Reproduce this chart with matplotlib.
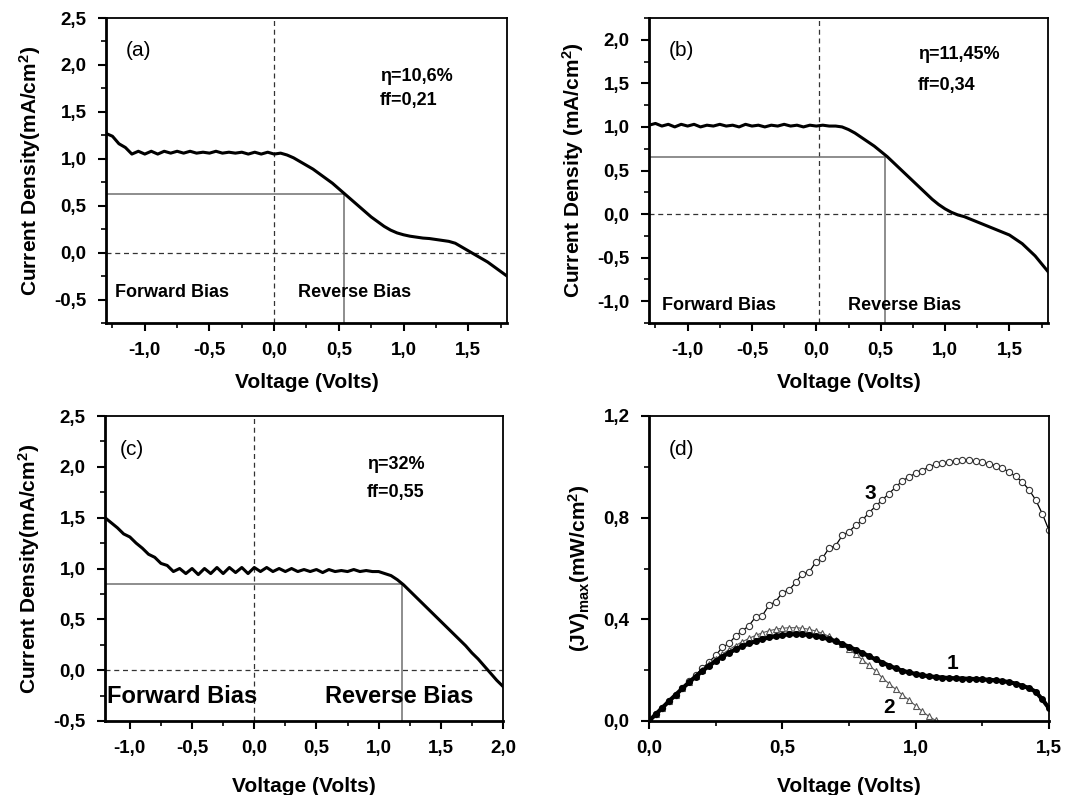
import numpy as np
import matplotlib
matplotlib.use("Agg")
import matplotlib.pyplot as plt
from matplotlib.ticker import MultipleLocator, FuncFormatter

plt.rcParams['font.family'] = ['Liberation Sans', 'DejaVu Sans']
plt.rcParams['font.weight'] = 'bold'
plt.rcParams['mathtext.default'] = 'regular'

# ---- panel (a): J-V, eta=10,6 %
va = [-1.30, -1.25, -1.20, -1.15, -1.10, -1.05, -1.00, -0.95, -0.90, -0.85, -0.80, -0.75, -0.70,
      -0.65, -0.60, -0.55, -0.50, -0.45, -0.40, -0.35, -0.30, -0.25, -0.20, -0.15, -0.10, -0.05,
      0.00, 0.05, 0.10, 0.15, 0.20, 0.25, 0.30, 0.35, 0.40, 0.45, 0.50, 0.55, 0.60, 0.65, 0.70,
      0.75, 0.80, 0.85, 0.90, 0.95, 1.00, 1.05, 1.10, 1.15, 1.20, 1.25, 1.30, 1.35, 1.40, 1.45,
      1.50, 1.55, 1.60, 1.65, 1.70, 1.75, 1.80]
ja = [1.27, 1.24, 1.16, 1.12, 1.05, 1.08, 1.05, 1.08, 1.05, 1.08, 1.06, 1.08, 1.06,
      1.08, 1.06, 1.07, 1.06, 1.08, 1.06, 1.07, 1.06, 1.07, 1.05, 1.07, 1.05, 1.07,
      1.05, 1.06, 1.04, 1.01, 0.97, 0.93, 0.89, 0.84, 0.79, 0.74, 0.68, 0.62, 0.56, 0.50, 0.44,
      0.38, 0.33, 0.28, 0.24, 0.21, 0.19, 0.175, 0.165, 0.155, 0.15, 0.14, 0.13, 0.12, 0.10, 0.06,
      0.02, -0.02, -0.06, -0.10, -0.15, -0.20, -0.25]
mp_a = (0.54, 0.625)

# ---- panel (b): J-V, eta=11,45 %
vb = va
jb = [1.02, 1.04, 1.01, 1.03, 1.00, 1.03, 1.01, 1.03, 1.00, 1.02, 1.01, 1.03, 1.01,
      1.02, 1.00, 1.03, 1.01, 1.02, 1.00, 1.02, 1.01, 1.03, 1.01, 1.02, 1.00, 1.02,
      1.01, 1.02, 1.01, 1.01, 1.00, 0.97, 0.93, 0.88, 0.83, 0.78, 0.72, 0.66, 0.59, 0.52, 0.45,
      0.38, 0.31, 0.24, 0.17, 0.11, 0.06, 0.02, -0.01, -0.03, -0.06, -0.09, -0.12, -0.15, -0.18, -0.21,
      -0.24, -0.29, -0.34, -0.41, -0.48, -0.57, -0.66]
mp_b = (0.53, 0.655)

# ---- panel (c): J-V, eta=32 %
vc = [-1.20, -1.15, -1.10, -1.05, -1.00, -0.95, -0.90, -0.85, -0.80, -0.75, -0.70, -0.65, -0.60,
      -0.55, -0.50, -0.45, -0.40, -0.35, -0.30, -0.25, -0.20, -0.15, -0.10, -0.05, 0.00, 0.05,
      0.10, 0.15, 0.20, 0.25, 0.30, 0.35, 0.40, 0.45, 0.50, 0.55, 0.60, 0.65, 0.70, 0.75, 0.80,
      0.85, 0.90, 0.95, 1.00, 1.05, 1.10, 1.15, 1.20, 1.25, 1.30, 1.35, 1.40, 1.45, 1.50, 1.55,
      1.60, 1.65, 1.70, 1.75, 1.80, 1.85, 1.90, 1.95, 2.00]
jc = [1.50, 1.45, 1.40, 1.34, 1.31, 1.25, 1.20, 1.14, 1.11, 1.05, 1.03, 0.97, 1.00,
      0.95, 1.00, 0.94, 1.00, 0.95, 1.01, 0.95, 1.01, 0.96, 1.01, 0.95, 1.01, 0.97,
      1.01, 0.97, 1.00, 0.97, 1.00, 0.97, 0.99, 0.97, 0.99, 0.96, 0.99, 0.97, 0.98, 0.97, 0.99,
      0.97, 0.98, 0.97, 0.97, 0.95, 0.93, 0.89, 0.84, 0.78, 0.72, 0.66, 0.60, 0.54, 0.48, 0.42,
      0.36, 0.30, 0.24, 0.17, 0.11, 0.04, -0.03, -0.10, -0.16]
mp_c = (1.185, 0.845)

# ---- panel (d): (JV) power curves
vd = [0.000, 0.025, 0.050, 0.075, 0.100, 0.125, 0.150, 0.175, 0.200, 0.225, 0.250, 0.275, 0.300,
      0.325, 0.350, 0.375, 0.400, 0.425, 0.450, 0.475, 0.500, 0.525, 0.550, 0.575, 0.600, 0.625,
      0.650, 0.675, 0.700, 0.725, 0.750, 0.775, 0.800, 0.825, 0.850, 0.875, 0.900, 0.925, 0.950,
      0.975, 1.000, 1.025, 1.050, 1.075, 1.100, 1.125, 1.150, 1.175, 1.200, 1.225, 1.250, 1.275,
      1.300, 1.325, 1.350, 1.375, 1.400, 1.425, 1.450, 1.475, 1.500]
p1 = [0.000, 0.026, 0.052, 0.078, 0.103, 0.128, 0.152, 0.175, 0.197, 0.217, 0.236, 0.253, 0.268,
      0.282, 0.294, 0.305, 0.314, 0.322, 0.329, 0.334, 0.338, 0.341, 0.342, 0.341, 0.339, 0.335,
      0.329, 0.322, 0.313, 0.303, 0.292, 0.280, 0.268, 0.255, 0.242, 0.230, 0.218, 0.207, 0.198,
      0.191, 0.185, 0.180, 0.176, 0.173, 0.171, 0.169, 0.168, 0.167, 0.166, 0.165, 0.164, 0.162,
      0.160, 0.157, 0.153, 0.147, 0.138, 0.130, 0.115, 0.085, 0.050]
vd2 = vd[:44]
p2 = [0.000, 0.026, 0.052, 0.078, 0.104, 0.129, 0.154, 0.178, 0.201, 0.223, 0.244, 0.263, 0.281,
      0.297, 0.312, 0.325, 0.337, 0.347, 0.355, 0.361, 0.365, 0.367, 0.367, 0.365, 0.361, 0.354,
      0.345, 0.333, 0.318, 0.301, 0.282, 0.262, 0.241, 0.219, 0.197, 0.170, 0.147, 0.125, 0.103,
      0.082, 0.060, 0.038, 0.018, 0.002]
p3 = [0.000, 0.026, 0.052, 0.078, 0.104, 0.130, 0.156, 0.182, 0.207, 0.232, 0.258, 0.290, 0.305,
      0.335, 0.355, 0.375, 0.410, 0.415, 0.455, 0.470, 0.505, 0.515, 0.545, 0.580, 0.585, 0.625,
      0.640, 0.680, 0.690, 0.730, 0.745, 0.770, 0.790, 0.820, 0.845, 0.870, 0.895, 0.920, 0.945,
      0.960, 0.975, 0.985, 1.000, 1.010, 1.015, 1.020, 1.022, 1.025, 1.026, 1.022, 1.018, 1.012,
      1.005, 0.995, 0.980, 0.962, 0.940, 0.910, 0.870, 0.815, 0.750]

comma = FuncFormatter(lambda x, pos: f"{x:.1f}".replace('.', ','))

fig = plt.figure(figsize=(10.72, 7.95), dpi=100)
W, H = 1072, 795


def add_ax(l, r, t, b):
    return fig.add_axes([l / W, 1 - b / H, (r - l) / W, (b - t) / H])


def style(ax, xmaj, xmin, ymaj, ymin):
    ax.xaxis.set_major_locator(MultipleLocator(xmaj))
    ax.xaxis.set_minor_locator(MultipleLocator(xmin))
    ax.yaxis.set_major_locator(MultipleLocator(ymaj))
    ax.yaxis.set_minor_locator(MultipleLocator(ymin))
    ax.xaxis.set_major_formatter(comma)
    ax.yaxis.set_major_formatter(comma)
    ax.tick_params(which='major', direction='out', length=6, width=1.5, labelsize=13.5, pad=8)
    ax.tick_params(which='minor', direction='out', length=3.5, width=1.2)
    ax.tick_params(top=False, right=False, which='both')
    for s in ['left', 'bottom']:
        ax.spines[s].set_linewidth(2.0)
    for s in ['top', 'right']:
        ax.spines[s].set_linewidth(1.3)
    for lab in ax.get_xticklabels() + ax.get_yticklabels():
        lab.set_fontweight('bold')


def jv_panel(ax, v, j, mp, x0, tag, eta, ff, tpos, bias_fs, bias_pos):
    ax.axvline(x0, color='#333333', lw=0.9, ls=(0, (4, 3)))
    ax.axhline(0, color='#333333', lw=0.9, ls=(0, (4, 3)))
    xl = ax.get_xlim()[0]
    yl = ax.get_ylim()[0]
    ax.plot([xl, mp[0]], [mp[1], mp[1]], color='#7a7a7a', lw=1.2)
    ax.plot([mp[0], mp[0]], [yl, mp[1]], color='#7a7a7a', lw=1.2)
    ax.plot(v, j, color='black', lw=2.2)
    ax.set_xlabel('Voltage (Volts)', fontsize=15, fontweight='bold', labelpad=10)
    ax.text(tpos[0], tpos[1], tag, transform=ax.transAxes, fontsize=15, fontweight='normal', va='center')
    ax.text(tpos[2], tpos[3], eta, transform=ax.transAxes, fontsize=13, fontweight='bold', va='center')
    ax.text(tpos[2], tpos[4], ff, transform=ax.transAxes, fontsize=13, fontweight='bold', va='center')
    ax.text(bias_pos[0], bias_pos[2], 'Forward Bias', transform=ax.transAxes, fontsize=bias_fs,
            fontweight='bold', va='center')
    ax.text(bias_pos[1], bias_pos[2], 'Reverse Bias', transform=ax.transAxes, fontsize=bias_fs,
            fontweight='bold', va='center')


# (a)
ax = add_ax(106, 507, 18, 323)
ax.set_xlim(-1.3, 1.8)
ax.set_ylim(-0.75, 2.5)
style(ax, 0.5, 0.25, 0.5, 0.25)
jv_panel(ax, va, ja, mp_a, 0.0, '(a)', 'η=10,6%', 'ff=0,21', (0.05, 0.895, 0.683, 0.807, 0.731),
         13, (0.022, 0.479, 0.10))
ax.set_ylabel('Current Density(mA/cm$^2$)', fontsize=15, fontweight='bold', labelpad=8)

# (b)
ax = add_ax(649, 1048, 18, 323)
ax.set_xlim(-1.3, 1.8)
ax.set_ylim(-1.25, 2.25)
style(ax, 0.5, 0.25, 0.5, 0.25)
jv_panel(ax, vb, jb, mp_b, 0.02, '(b)', 'η=11,45%', 'ff=0,34', (0.05, 0.895, 0.674, 0.879, 0.78),
         13, (0.033, 0.50, 0.059))
ax.set_ylabel('Current Density (mA/cm$^2$)', fontsize=15, fontweight='bold', labelpad=8)

# (c)
ax = add_ax(105, 503, 416, 721)
ax.set_xlim(-1.2, 2.0)
ax.set_ylim(-0.5, 2.5)
style(ax, 0.5, 0.25, 0.5, 0.25)
jv_panel(ax, vc, jc, mp_c, 0.0, '(c)', 'η=32%', 'ff=0,55', (0.038, 0.89, 0.658, 0.84, 0.748),
         17, (0.005, 0.553, 0.08))
ax.xaxis.labelpad = 14
ax.set_ylabel('Current Density(mA/cm$^2$)', fontsize=15, fontweight='bold', labelpad=8)

# (d)
ax = add_ax(649, 1049, 416, 721)
ax.set_xlim(0, 1.5)
ax.set_ylim(0, 1.2)
style(ax, 0.5, 0.25, 0.4, 0.2)
ax.plot(vd, p3, color='black', lw=0.9, marker='o', ms=4.5, mfc='white', mec='#333333', mew=0.8)
ax.plot(vd2, p2, color='#555555', lw=0.8, marker='^', ms=4.5, mfc='white', mec='#555555', mew=0.8)
ax.plot(vd, p1, color='black', lw=3.0, marker='o', ms=4, mfc='black', mec='black')
ax.text(0.83, 0.895, '3', fontsize=15, fontweight='bold', ha='center', va='center')
ax.text(1.14, 0.226, '1', fontsize=15, fontweight='bold', ha='center', va='center')
ax.text(0.90, 0.055, '2', fontsize=15, fontweight='bold', ha='center', va='center')
ax.text(0.05, 0.89, '(d)', transform=ax.transAxes, fontsize=15, fontweight='normal', va='center')
ax.set_xlabel('Voltage (Volts)', fontsize=15, fontweight='bold', labelpad=14)
ax.set_ylabel('(JV)$_{max}$(mW/cm$^2$)', fontsize=15, fontweight='bold', labelpad=8)

fig.savefig('out.png', dpi=100)
